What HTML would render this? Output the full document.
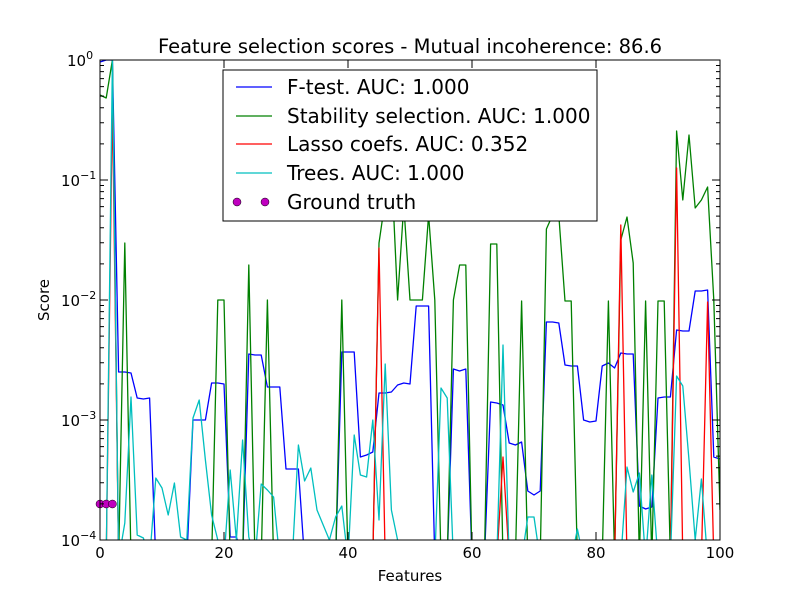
<!DOCTYPE html>
<html><head><meta charset="utf-8"><style>body{margin:0;background:#fff}svg{display:block}text{font-family:"DejaVu Sans","Liberation Sans",sans-serif}</style></head><body>
<svg width="800" height="600" viewBox="0 0 800 600" xmlns="http://www.w3.org/2000/svg">
<rect width="800" height="600" fill="#fff"/>
<defs><clipPath id="c"><rect x="100" y="60" width="620" height="480"/></clipPath></defs>
<g clip-path="url(#c)" fill="none" stroke-width="1.3" stroke-linejoin="round">
<polyline stroke="#0000ff" points="100,62 106.2,60 112.4,60 118.6,372 124.8,372 131,373 137.2,398 143.4,399 149.6,398 155.8,560 186.8,560 193,420 199.2,420 205.4,420 211.6,383 217.8,383 224,384 230.2,537 236.4,537 242.6,560 248.8,354 255,355 261.2,355 267.4,387 273.6,387 279.8,387 286,469 292.2,469 298.4,469 304.6,560 335.6,560 341.8,352 348,352 354.2,352 360.4,457 366.6,455 372.8,452 379,393 385.2,393 391.4,392 397.6,385 403.8,383 410,384 416.2,306 422.4,306 428.6,306 434.8,560 447.2,560 453.4,369 459.6,371 465.8,369 472,560 484.4,560 490.6,402 496.8,403 503,405 509.2,443 515.4,445 521.6,442 527.8,491 534,495 540.2,491 546.4,322 552.6,322 558.8,323 565,365 571.2,366 577.4,366 583.6,420 589.8,422 596,421 602.2,366 608.4,363 614.6,368 620.8,353 627,354 633.2,354 639.4,506 645.6,509 651.8,507 658,398 664.2,397 670.4,397 676.6,330 682.8,331 689,331 695.2,291 701.4,291 707.6,290 713.8,457 720,459"/>
<polyline stroke="#008000" points="100,95 106.2,98 112.4,60 118.6,560 124.8,243 131,560 211.6,560 217.8,300 224,300 230.2,560 242.6,560 248.8,265 255,560 261.2,560 267.4,300 273.6,560 335.6,560 341.8,300 348,560 372.8,560 379,243 385.2,200 391.4,165 397.6,300 403.8,205 410,300 416.2,300 422.4,300 428.6,215 434.8,300 441,560 447.2,560 453.4,300 459.6,265 465.8,265 472,560 484.4,560 490.6,244 496.8,244 503,560 515.4,560 521.6,301 527.8,560 540.2,560 546.4,229 552.6,215 558.8,215 565,301 571.2,301 577.4,560 602.2,560 608.4,301 614.6,560 620.8,240 627,217 633.2,263 639.4,560 645.6,301 651.8,560 658,301 664.2,301 670.4,560 676.6,131 682.8,200 689,135 695.2,208 701.4,200 707.6,187 713.8,300 720,510"/>
<polyline stroke="#ff0000" points="100,560 106.2,560 112.4,100 118.6,560 372.8,560 379,248 385.2,560 496.8,560 503,457 509.2,560 614.6,560 620.8,225 627,560 670.4,560 676.6,168 682.8,560 701.4,560 707.6,302 713.8,560 720,560"/>
<polyline stroke="#00bfbf" points="100,560 106.2,560 112.4,60 118.6,560 124.8,523 131,397 137.2,535 143.4,538 149.6,560 155.8,478 162,488 168.2,515 174.4,483 180.6,537 186.8,540 193,418 199.2,400 205.4,460 211.6,515 217.8,540 224,560 230.2,470 236.4,540 242.6,440 248.8,537 255,560 261.2,484 267.4,490 273.6,497 279.8,560 292.2,560 298.4,445 304.6,481 310.8,468 317,510 323.2,525 329.4,540 335.6,517 341.8,506 348,560 354.2,435 360.4,475 366.6,477 372.8,420 379,520 385.2,364 391.4,510 397.6,540 403.8,560 434.8,560 441,388 447.2,398 453.4,560 496.8,560 503,345 509.2,560 521.6,560 527.8,517 534,517 540.2,560 571.2,560 577.4,529 583.6,560 620.8,560 627,467 633.2,492 639.4,473 645.6,560 651.8,475 658,560 670.4,560 676.6,376 682.8,386 689,460 695.2,540 701.4,479 707.6,560 720,560"/>
</g>
<circle cx="100" cy="504" r="4" fill="#bf00bf" stroke="#000" stroke-width="0.5"/>
<circle cx="106.2" cy="504" r="4" fill="#bf00bf" stroke="#000" stroke-width="0.5"/>
<circle cx="112.4" cy="504" r="4" fill="#bf00bf" stroke="#000" stroke-width="0.5"/>
<rect x="100" y="60" width="620" height="480" fill="none" stroke="#000" stroke-width="1"/>
<path stroke="#000" stroke-width="1" fill="none" d="
M100 540h8M100 420h8M100 300h8M100 180h8M100 60h8
M720 540h-8M720 420h-8M720 300h-8M720 180h-8M720 60h-8
M100 503.9h4M100 482.7h4M100 467.8h4M100 456.1h4M100 446.6h4M100 438.6h4M100 431.6h4M100 425.5h4
M100 383.9h4M100 362.7h4M100 347.8h4M100 336.1h4M100 326.6h4M100 318.6h4M100 311.6h4M100 305.5h4
M100 263.9h4M100 242.7h4M100 227.8h4M100 216.1h4M100 206.6h4M100 198.6h4M100 191.6h4M100 185.5h4
M100 143.9h4M100 122.7h4M100 107.8h4M100 96.1h4M100 86.6h4M100 78.6h4M100 71.6h4M100 65.5h4
M720 503.9h-4M720 482.7h-4M720 467.8h-4M720 456.1h-4M720 446.6h-4M720 438.6h-4M720 431.6h-4M720 425.5h-4
M720 383.9h-4M720 362.7h-4M720 347.8h-4M720 336.1h-4M720 326.6h-4M720 318.6h-4M720 311.6h-4M720 305.5h-4
M720 263.9h-4M720 242.7h-4M720 227.8h-4M720 216.1h-4M720 206.6h-4M720 198.6h-4M720 191.6h-4M720 185.5h-4
M720 143.9h-4M720 122.7h-4M720 107.8h-4M720 96.1h-4M720 86.6h-4M720 78.6h-4M720 71.6h-4M720 65.5h-4
M224 540v-8M348 540v-8M472 540v-8M596 540v-8
M224 60v8M348 60v8M472 60v8M596 60v8"/>
<g font-size="15" fill="#000">
<text x="100" y="558" text-anchor="middle">0</text>
<text x="224" y="558" text-anchor="middle">20</text>
<text x="348" y="558" text-anchor="middle">40</text>
<text x="472" y="558" text-anchor="middle">60</text>
<text x="596" y="558" text-anchor="middle">80</text>
<text x="720" y="558" text-anchor="middle">100</text>
<text x="67" y="66">10<tspan font-size="11" dy="-7">0</tspan></text>
<text x="61" y="186">10<tspan font-size="11" dy="-7">−1</tspan></text>
<text x="61" y="306">10<tspan font-size="11" dy="-7">−2</tspan></text>
<text x="61" y="426">10<tspan font-size="11" dy="-7">−3</tspan></text>
<text x="61" y="546">10<tspan font-size="11" dy="-7">−4</tspan></text>
<text x="410" y="581" text-anchor="middle">Features</text>
<text x="0" y="0" text-anchor="middle" transform="translate(49,300) rotate(-90)">Score</text>
<text x="410" y="53" text-anchor="middle" font-size="19.5">Feature selection scores - Mutual incoherence: 86.6</text>
</g>
<rect x="223" y="70" width="374" height="151" fill="#fff" stroke="#000" stroke-width="1"/>
<g stroke-width="1.3">
<line x1="236" y1="87" x2="272" y2="87" stroke="#0000ff"/>
<line x1="236" y1="116" x2="272" y2="116" stroke="#008000"/>
<line x1="236" y1="144" x2="272" y2="144" stroke="#ff0000"/>
<line x1="236" y1="173" x2="272" y2="173" stroke="#00bfbf"/>
</g>
<circle cx="237" cy="202" r="4" fill="#bf00bf" stroke="#000" stroke-width="0.5"/>
<circle cx="265" cy="202" r="4" fill="#bf00bf" stroke="#000" stroke-width="0.5"/>
<g font-size="20" fill="#000">
<text x="287" y="94">F-test. AUC: 1.000</text>
<text x="287" y="123">Stability selection. AUC: 1.000</text>
<text x="287" y="151">Lasso coefs. AUC: 0.352</text>
<text x="287" y="180">Trees. AUC: 1.000</text>
<text x="287" y="209">Ground truth</text>
</g>
</svg>
</body></html>
